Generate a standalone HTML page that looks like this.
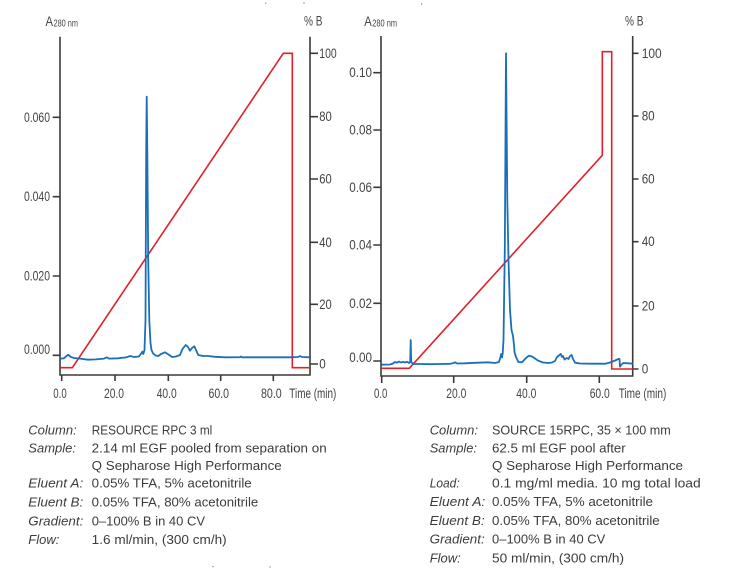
<!DOCTYPE html>
<html><head><meta charset="utf-8"><style>
html,body{margin:0;padding:0;background:#fff;}
svg{display:block;}
text{font-family:"Liberation Sans",sans-serif;fill:#444;}
.t{font-size:13.5px;}
.b{font-size:13px;fill:#3c3c3c;}
.i{font-style:italic;}
</style></head><body>
<svg width="736" height="570" viewBox="0 0 736 570" xmlns="http://www.w3.org/2000/svg">
<rect width="736" height="570" fill="#fff"/>
<g fill="#888"><circle cx="265.7" cy="3.3" r="0.7"/><circle cx="304" cy="3" r="0.7"/><circle cx="421.7" cy="4" r="0.7"/><circle cx="213" cy="566.7" r="0.7"/><circle cx="270" cy="567" r="0.7"/></g>

<!-- LEFT CHART -->
<g stroke="#3a3a3a" stroke-width="1.6" fill="none">
<path d="M60,36.7 V375 H310 V36.7"/>
<path d="M52.7,117.3 H60 M52.7,196.7 H60 M52.7,276 H60 M52.7,355.3 H60"/>
<path d="M310,53.3 H318 M310,116.7 H318 M310,179 H318 M310,242.3 H318 M310,304.3 H318 M310,364 H318"/>
<path d="M61.7,375 V381 M115,375 V381 M168.3,375 V381 M220.7,375 V381 M273.3,375 V381"/>
</g>
<text x="45.5" y="26" style="font-size:14px" textLength="7.5" lengthAdjust="spacingAndGlyphs">A</text>
<text x="53.5" y="26.5" style="font-size:10px" textLength="24.5" lengthAdjust="spacingAndGlyphs">280 nm</text>
<text x="304" y="25.5" class="t" textLength="18.5" lengthAdjust="spacingAndGlyphs">% B</text>
<text x="24" y="122" class="t" textLength="26" lengthAdjust="spacingAndGlyphs">0.060</text>
<text x="24" y="201.2" class="t" textLength="26" lengthAdjust="spacingAndGlyphs">0.040</text>
<text x="24" y="280.5" class="t" textLength="26" lengthAdjust="spacingAndGlyphs">0.020</text>
<text x="24" y="354" class="t" textLength="26" lengthAdjust="spacingAndGlyphs">0.000</text>
<text x="319.3" y="58" class="t" textLength="17.4" lengthAdjust="spacingAndGlyphs">100</text>
<text x="319.3" y="121.2" class="t" textLength="12.5" lengthAdjust="spacingAndGlyphs">80</text>
<text x="319.3" y="183.5" class="t" textLength="12.5" lengthAdjust="spacingAndGlyphs">60</text>
<text x="319.3" y="246.8" class="t" textLength="12.5" lengthAdjust="spacingAndGlyphs">40</text>
<text x="319.3" y="308.8" class="t" textLength="12.5" lengthAdjust="spacingAndGlyphs">20</text>
<text x="319.3" y="368.5" class="t" textLength="6.5" lengthAdjust="spacingAndGlyphs">0</text>
<text x="53.3" y="398" class="t" textLength="13.4" lengthAdjust="spacingAndGlyphs">0.0</text>
<text x="104" y="398" class="t" textLength="20" lengthAdjust="spacingAndGlyphs">20.0</text>
<text x="156.7" y="398" class="t" textLength="20" lengthAdjust="spacingAndGlyphs">40.0</text>
<text x="208.5" y="398" class="t" textLength="20.5" lengthAdjust="spacingAndGlyphs">60.0</text>
<text x="261" y="398" class="t" textLength="20.7" lengthAdjust="spacingAndGlyphs">80.0</text>
<text x="289.3" y="398" class="t" textLength="47" lengthAdjust="spacingAndGlyphs">Time (min)</text>

<path d="M60,367.7 L72.3,367.7 L283.3,53.3 L292.3,53.3 L292.3,367.7 L310,367.7" fill="none" stroke="#e0202a" stroke-width="1.6"/>
<path d="M60,358.7 L64,358.3 L66,356.5 L68.3,354.7 L70.5,356.8 L74,358 L80,358.6 L88,359.7 L96,359.4 L104,358.6 L106.7,357.3 L109,358.6 L118,358.3 L126,357.4 L130,356 L134,357 L139,356.5 L141.5,353 L142.3,351.7 L143.3,354 L144.5,350 L145.5,320 L146.2,150 L146.7,96.7 L147.3,150 L148.2,260 L149.3,320 L150.5,343 L151.5,350 L153,353.3 L155.5,355.5 L158.3,356 L161,354 L165,352.3 L168.5,354.5 L172,357 L176,356.5 L180,355 L182.5,349 L185.7,345 L188,347 L190,350.7 L192,348 L194.3,346.3 L196,350 L198.3,355 L203,356 L208.3,356 L215,356.8 L225,357.3 L240,357.2 L241,356.5 L242,357.3 L270,357.3 L290,357.3 L298,357 L300,356 L302,357 L310,357.3" fill="none" stroke="#1b6fb9" stroke-width="1.8" stroke-linejoin="round"/>

<!-- RIGHT CHART -->
<g stroke="#3a3a3a" stroke-width="1.6" fill="none">
<path d="M381,36 V376 H632.7 V36"/>
<path d="M373.3,72.7 H381 M373.3,130 H381 M373.3,187.3 H381 M373.3,245 H381 M373.3,303.3 H381 M373.3,361 H381"/>
<path d="M632.7,53.3 H638.5 M632.7,116 H638.5 M632.7,179 H638.5 M632.7,241.7 H638.5 M632.7,306 H638.5 M632.7,369 H638.5"/>
<path d="M381.7,376 V383 M453.7,376 V383 M526.7,376 V383 M599.3,376 V383"/>
</g>
<text x="364.3" y="26" style="font-size:14px" textLength="7.5" lengthAdjust="spacingAndGlyphs">A</text>
<text x="372.3" y="26.5" style="font-size:10px" textLength="24.7" lengthAdjust="spacingAndGlyphs">280 nm</text>
<text x="625" y="25.5" class="t" textLength="18.5" lengthAdjust="spacingAndGlyphs">% B</text>
<text x="349.3" y="77.2" class="t" textLength="22.7" lengthAdjust="spacingAndGlyphs">0.10</text>
<text x="349.3" y="134.5" class="t" textLength="22.7" lengthAdjust="spacingAndGlyphs">0.08</text>
<text x="349.3" y="191.8" class="t" textLength="22.7" lengthAdjust="spacingAndGlyphs">0.06</text>
<text x="349.3" y="249.5" class="t" textLength="22.7" lengthAdjust="spacingAndGlyphs">0.04</text>
<text x="349.3" y="307.8" class="t" textLength="22.7" lengthAdjust="spacingAndGlyphs">0.02</text>
<text x="349.3" y="362.2" class="t" textLength="22.7" lengthAdjust="spacingAndGlyphs">0.00</text>
<text x="641.7" y="57.8" class="t" textLength="20" lengthAdjust="spacingAndGlyphs">100</text>
<text x="641.7" y="120.5" class="t" textLength="13" lengthAdjust="spacingAndGlyphs">80</text>
<text x="641.7" y="183.5" class="t" textLength="13" lengthAdjust="spacingAndGlyphs">60</text>
<text x="641.7" y="246.2" class="t" textLength="13" lengthAdjust="spacingAndGlyphs">40</text>
<text x="641.7" y="310.5" class="t" textLength="13" lengthAdjust="spacingAndGlyphs">20</text>
<text x="641.7" y="373.5" class="t" textLength="6.5" lengthAdjust="spacingAndGlyphs">0</text>
<text x="374" y="398" class="t" textLength="13.3" lengthAdjust="spacingAndGlyphs">0.0</text>
<text x="446.3" y="398" class="t" textLength="20" lengthAdjust="spacingAndGlyphs">20.0</text>
<text x="516.3" y="398" class="t" textLength="20" lengthAdjust="spacingAndGlyphs">40.0</text>
<text x="589.7" y="398" class="t" textLength="20" lengthAdjust="spacingAndGlyphs">60.0</text>
<text x="618.7" y="398" class="t" textLength="47.6" lengthAdjust="spacingAndGlyphs">Time (min)</text>

<path d="M381,368.3 L409.3,368.3 L602.3,155.3 L602.3,51.7 L611.7,51.7 L611.7,369 L633,369" fill="none" stroke="#e0202a" stroke-width="1.6"/>
<path d="M381.5,364.7 L390,364.5 L393,363.5 L395,362 L397,362.8 L399,361.5 L401,362.5 L403,361.8 L405,362.5 L407,361.7 L409,363 L410.2,362 L410.7,340 L411.2,362 L413,364 L420,364 L430,364.2 L440,364 L450,363.8 L453,363.2 L455,362.3 L457,363.5 L465,363.3 L475,362.8 L488,362.3 L495,363 L499,362 L500.5,357 L501,354 L502,357.5 L502.7,353.3 L503.5,340 L504.8,250 L505.6,120 L506,53.3 L506.5,110 L507.3,200 L508.5,260 L510,310 L511.5,330 L513,336 L514,345 L514.5,352 L516,357 L518.3,362 L522,362.3 L526,358 L529,355.7 L532,356.5 L535,358.5 L538.3,360.7 L543,362.5 L548.3,363 L552,362.5 L555,361 L557,357 L560.7,354 L562,357 L563,356 L564.5,359.5 L566.7,358 L568.5,359 L570,356 L571.7,355 L573,359 L575,362.7 L580,363.5 L590,363.7 L600,363.7 L605,363.8 L610,362.5 L614,361 L618.3,359 L619.5,359 L620,366.7 L621,365 L623.3,363 L628,363.3 L633,363.7" fill="none" stroke="#1b6fb9" stroke-width="1.8" stroke-linejoin="round"/>

<!-- LEFT TEXT BLOCK -->
<g class="b">
<text x="28.3" y="434.3" class="b i" textLength="48.4" lengthAdjust="spacingAndGlyphs">Column:</text>
<text x="91.7" y="434.3" class="b" textLength="120.6" lengthAdjust="spacingAndGlyphs">RESOURCE RPC 3 ml</text>
<text x="28.3" y="452.7" class="b i" textLength="47.7" lengthAdjust="spacingAndGlyphs">Sample:</text>
<text x="91.7" y="452.7" class="b" textLength="235" lengthAdjust="spacingAndGlyphs">2.14 ml EGF pooled from separation on</text>
<text x="91.7" y="470" class="b" textLength="190" lengthAdjust="spacingAndGlyphs">Q Sepharose High Performance</text>
<text x="28.3" y="487.7" class="b i" textLength="55" lengthAdjust="spacingAndGlyphs">Eluent A:</text>
<text x="91.7" y="487.7" class="b" textLength="160" lengthAdjust="spacingAndGlyphs">0.05% TFA, 5% acetonitrile</text>
<text x="28.3" y="506.7" class="b i" textLength="55" lengthAdjust="spacingAndGlyphs">Eluent B:</text>
<text x="91.7" y="506.7" class="b" textLength="166.6" lengthAdjust="spacingAndGlyphs">0.05% TFA, 80% acetonitrile</text>
<text x="28.3" y="525.3" class="b i" textLength="55" lengthAdjust="spacingAndGlyphs">Gradient:</text>
<text x="91.7" y="525.3" class="b" textLength="113.3" lengthAdjust="spacingAndGlyphs">0–100% B in 40 CV</text>
<text x="28.3" y="544" class="b i" textLength="31" lengthAdjust="spacingAndGlyphs">Flow:</text>
<text x="91.7" y="544" class="b" textLength="135" lengthAdjust="spacingAndGlyphs">1.6 ml/min, (300 cm/h)</text>
</g>

<!-- RIGHT TEXT BLOCK -->
<g class="b">
<text x="429.7" y="434.3" class="b i" textLength="48.3" lengthAdjust="spacingAndGlyphs">Column:</text>
<text x="492" y="434.3" class="b" textLength="178.7" lengthAdjust="spacingAndGlyphs">SOURCE 15RPC, 35 × 100 mm</text>
<text x="429.7" y="452.7" class="b i" textLength="47.3" lengthAdjust="spacingAndGlyphs">Sample:</text>
<text x="492" y="452.7" class="b" textLength="133.7" lengthAdjust="spacingAndGlyphs">62.5 ml EGF pool after</text>
<text x="492" y="470" class="b" textLength="191" lengthAdjust="spacingAndGlyphs">Q Sepharose High Performance</text>
<text x="429.7" y="487.7" class="b i" textLength="30" lengthAdjust="spacingAndGlyphs">Load:</text>
<text x="492" y="487.7" class="b" textLength="208.7" lengthAdjust="spacingAndGlyphs">0.1 mg/ml media. 10 mg total load</text>
<text x="429.7" y="506" class="b i" textLength="55.6" lengthAdjust="spacingAndGlyphs">Eluent A:</text>
<text x="492" y="506" class="b" textLength="161" lengthAdjust="spacingAndGlyphs">0.05% TFA, 5% acetonitrile</text>
<text x="429.7" y="525" class="b i" textLength="55" lengthAdjust="spacingAndGlyphs">Eluent B:</text>
<text x="492" y="525" class="b" textLength="167.7" lengthAdjust="spacingAndGlyphs">0.05% TFA, 80% acetonitrile</text>
<text x="429.7" y="543.3" class="b i" textLength="55" lengthAdjust="spacingAndGlyphs">Gradient:</text>
<text x="492" y="543.3" class="b" textLength="113.3" lengthAdjust="spacingAndGlyphs">0–100% B in 40 CV</text>
<text x="429.7" y="562.7" class="b i" textLength="31" lengthAdjust="spacingAndGlyphs">Flow:</text>
<text x="492" y="562.7" class="b" textLength="132" lengthAdjust="spacingAndGlyphs">50 ml/min, (300 cm/h)</text>
</g>
</svg>
</body></html>
